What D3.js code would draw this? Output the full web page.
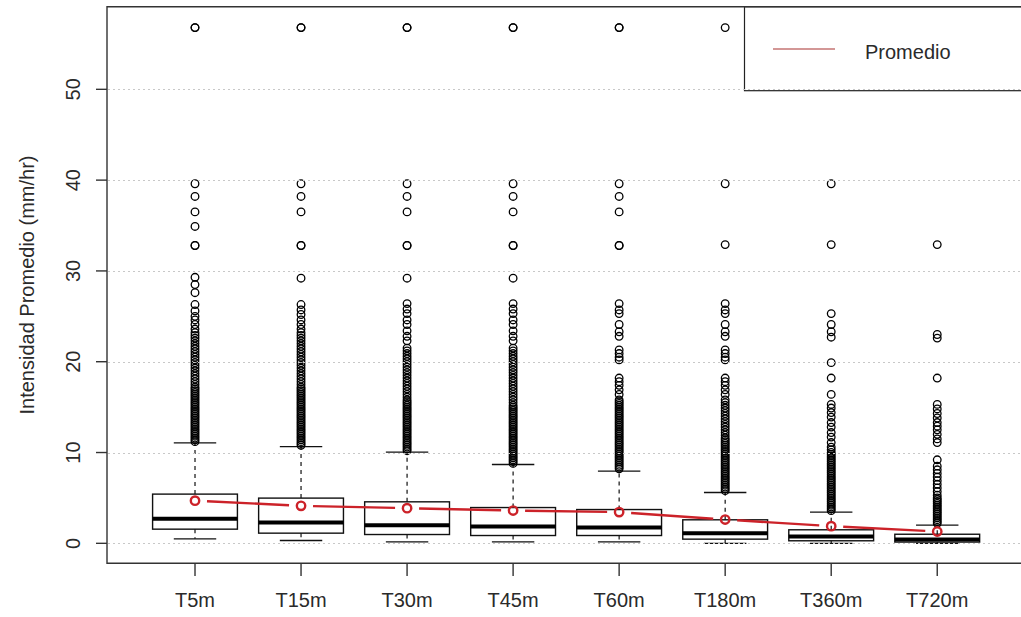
<!DOCTYPE html>
<html>
<head>
<meta charset="utf-8">
<script src="https://cdn.jsdelivr.net/npm/d3@7"></script>
<style>
  html, body { margin: 0; padding: 0; background: #fff; }
  svg { display: block; }
  text { font-family: "Liberation Sans", Arial, sans-serif; fill: #2a2a2a; }
</style>
</head>
<body>
<svg id="chart" width="1021" height="617"></svg>
<script>
// ---------------- DATA ----------------
const categories = ["T5m", "T15m", "T30m", "T45m", "T60m", "T180m", "T360m", "T720m"];
const whiskerLow  = [0.5, 0.31, 0.16, 0.16, 0.16, 0.0, 0.0, 0.0];
const q1          = [1.56, 1.12, 0.97, 0.86, 0.86, 0.46, 0.28, 0.14];
const median      = [2.7, 2.29, 2.0, 1.85, 1.74, 1.12, 0.75, 0.42];
const q3          = [5.42, 4.98, 4.57, 3.94, 3.72, 2.59, 1.49, 1.0];
const whiskerHigh = [11.07, 10.66, 10.04, 8.68, 7.95, 5.6, 3.44, 2.0];
const means       = [4.7, 4.13, 3.87, 3.61, 3.44, 2.62, 1.89, 1.3];

const out_T5m = [56.8, 56.8, 39.6, 38.2, 36.5, 34.9, 32.8, 32.8, 29.3, 28.5, 27.6, 26.3, 25.6, 25.0, 24.6, 24.1, 23.6, 23.2, 22.9, 22.6, 22.3, 22.0, 21.7, 21.4, 21.1, 20.8, 20.5, 20.2, 19.9, 19.6, 19.3, 19.0, 18.7, 18.4, 18.1, 17.8, 17.5, 17.2, 17.0, 16.8, 16.6, 16.4, 16.2, 16.0, 15.8, 15.6, 15.4, 15.2, 15.0, 14.8, 14.6, 14.4, 14.2, 14.0, 13.8, 13.6, 13.4, 13.2, 13.0, 12.8, 12.6, 12.4, 12.2, 12.0, 11.8, 11.6, 11.4, 11.2];
const out_T15m = [56.8, 56.8, 39.6, 38.2, 36.5, 32.8, 32.8, 29.2, 26.3, 25.7, 25.2, 24.6, 24.1, 23.6, 23.2, 22.9, 22.6, 22.3, 22.0, 21.7, 21.4, 21.1, 20.8, 20.5, 20.2, 19.9, 19.6, 19.3, 19.0, 18.7, 18.4, 18.1, 17.8, 17.5, 17.2, 17.0, 16.8, 16.6, 16.4, 16.2, 16.0, 15.8, 15.6, 15.4, 15.2, 15.0, 14.8, 14.6, 14.4, 14.2, 14.0, 13.8, 13.6, 13.4, 13.2, 13.0, 12.8, 12.6, 12.4, 12.2, 12.0, 11.8, 11.6, 11.4, 11.2, 11.0, 10.8];
const out_T30m = [56.8, 56.8, 39.6, 38.2, 36.5, 32.8, 32.8, 29.2, 26.4, 25.8, 25.3, 24.6, 24.1, 23.4, 22.8, 22.3, 21.5, 21.2, 20.9, 20.6, 20.3, 20.0, 19.7, 19.4, 19.1, 18.8, 18.5, 18.2, 17.9, 17.6, 17.3, 17.0, 16.7, 16.4, 16.1, 15.8, 15.6, 15.4, 15.2, 15.0, 14.8, 14.6, 14.4, 14.2, 14.0, 13.8, 13.6, 13.4, 13.2, 13.0, 12.8, 12.6, 12.4, 12.2, 12.0, 11.8, 11.6, 11.4, 11.2, 11.0, 10.8, 10.6, 10.4, 10.2];
const out_T45m = [56.8, 56.8, 39.6, 38.2, 36.5, 32.8, 32.8, 29.2, 26.4, 25.8, 25.3, 24.6, 24.1, 23.4, 22.8, 22.3, 21.5, 21.2, 20.9, 20.6, 20.3, 20.0, 19.7, 19.4, 19.1, 18.8, 18.5, 18.2, 17.9, 17.6, 17.3, 17.0, 16.7, 16.4, 16.1, 15.8, 15.5, 15.2, 15.0, 14.8, 14.6, 14.4, 14.2, 14.0, 13.8, 13.6, 13.4, 13.2, 13.0, 12.8, 12.6, 12.4, 12.2, 12.0, 11.8, 11.6, 11.4, 11.2, 11.0, 10.8, 10.6, 10.4, 10.2, 10.0, 9.8, 9.6, 9.4, 9.2, 9.0, 8.8];
const out_T60m = [56.8, 56.8, 39.6, 38.2, 36.5, 32.8, 32.8, 26.4, 25.7, 25.3, 24.1, 23.3, 22.8, 21.3, 20.9, 20.5, 20.2, 18.2, 17.8, 17.4, 16.9, 16.4, 15.8, 15.6, 15.4, 15.2, 15.0, 14.8, 14.6, 14.4, 14.2, 14.0, 13.8, 13.6, 13.4, 13.2, 13.0, 12.8, 12.6, 12.4, 12.2, 12.0, 11.8, 11.6, 11.4, 11.2, 11.0, 10.8, 10.6, 10.4, 10.2, 10.0, 9.8, 9.6, 9.4, 9.2, 9.0, 8.8, 8.6, 8.4, 8.2];
const out_T180m = [56.8, 39.6, 32.9, 26.4, 25.7, 25.3, 24.1, 23.3, 22.8, 21.3, 20.9, 20.5, 20.2, 18.2, 17.8, 17.4, 16.9, 16.4, 15.8, 15.5, 15.2, 14.9, 14.6, 14.3, 14.0, 13.7, 13.4, 13.1, 12.8, 12.5, 12.2, 11.9, 11.6, 11.4, 11.2, 11.0, 10.8, 10.6, 10.4, 10.2, 10.0, 9.8, 9.6, 9.4, 9.2, 9.0, 8.8, 8.6, 8.4, 8.2, 8.0, 7.8, 7.6, 7.4, 7.2, 7.0, 6.8, 6.6, 6.4, 6.2, 6.0, 5.8];
const out_T360m = [39.6, 32.9, 25.3, 24.1, 23.3, 22.7, 19.9, 18.2, 16.4, 15.3, 14.9, 14.4, 13.9, 13.3, 12.8, 12.2, 11.7, 11.1, 10.6, 10.3, 10.0, 9.8, 9.6, 9.4, 9.2, 9.0, 8.8, 8.6, 8.4, 8.2, 8.0, 7.8, 7.6, 7.4, 7.2, 7.0, 6.8, 6.6, 6.4, 6.2, 6.0, 5.8, 5.6, 5.4, 5.2, 5.0, 4.8, 4.6, 4.4, 4.2, 4.0, 3.8, 3.6];
const out_T720m = [32.9, 23.0, 22.6, 18.2, 15.3, 14.8, 14.3, 13.8, 13.3, 12.9, 12.5, 12.0, 11.5, 11.1, 9.2, 8.5, 8.1, 7.7, 7.3, 6.9, 6.5, 6.1, 5.7, 5.3, 5.0, 4.8, 4.6, 4.4, 4.2, 4.0, 3.8, 3.6, 3.4, 3.2, 3.0, 2.8, 2.6, 2.4, 2.2];
const outliers = [out_T5m, out_T15m, out_T30m, out_T45m, out_T60m, out_T180m, out_T360m, out_T720m];

const yTicks = [0, 10, 20, 30, 40, 50];
const yTitle = "Intensidad Promedio (mm/hr)";
const legendLabel = "Promedio";

// ---------------- LAYOUT ----------------
const svg = d3.select("#chart");
const plotL = 107, plotT = 6.7, plotB = 563.3, plotR = 1021;
const x = d3.scaleLinear().domain([0.17, 8.79]).range([plotL, plotR]);
const y = d3.scaleLinear().domain([-2.2, 59.1]).range([plotB, plotT]);
const unit = x(2) - x(1);
const boxW = 0.8 * unit;
const capW = 0.4 * unit;
const red = "#cc2229";

const boxes = categories.map((c, i) => ({
  c, pos: i + 1, lo: whiskerLow[i], q1: q1[i], med: median[i], q3: q3[i], hi: whiskerHigh[i], mean: means[i], out: outliers[i]
}));

// legend box (drawn first; grid drawn over)
const lg = svg.append("g");
lg.append("rect").attr("x", 744.5).attr("y", plotT).attr("width", 400).attr("height", 90.7 - plotT)
  .attr("fill", "#fff").attr("stroke", "#222").attr("stroke-width", 1.2);
lg.append("line").attr("x1", 773).attr("x2", 835).attr("y1", 49).attr("y2", 49)
  .attr("stroke", "#a8302f").attr("stroke-width", 1.2);
lg.append("text").attr("x", 865).attr("y", 59).attr("font-size", 20).text(legendLabel);

// boxes
const g = svg.append("g");
boxes.forEach(b => {
  const cx = x(b.pos);
  g.append("line").attr("x1", cx).attr("x2", cx).attr("y1", y(b.q3)).attr("y2", y(b.hi))
    .attr("stroke", "#111").attr("stroke-width", 1.2).attr("stroke-dasharray", "4,4");
  g.append("line").attr("x1", cx).attr("x2", cx).attr("y1", y(b.q1)).attr("y2", y(b.lo))
    .attr("stroke", "#111").attr("stroke-width", 1.2).attr("stroke-dasharray", "4,4");
  [b.lo, b.hi].forEach(v => {
    g.append("line").attr("x1", cx - capW / 2).attr("x2", cx + capW / 2).attr("y1", y(v)).attr("y2", y(v))
      .attr("stroke", "#111").attr("stroke-width", 1.3);
  });
  g.append("rect").attr("x", cx - boxW / 2).attr("width", boxW)
    .attr("y", y(b.q3)).attr("height", y(b.q1) - y(b.q3))
    .attr("fill", "none").attr("stroke", "#111").attr("stroke-width", 1.4);
  g.append("line").attr("x1", cx - boxW / 2).attr("x2", cx + boxW / 2).attr("y1", y(b.med)).attr("y2", y(b.med))
    .attr("stroke", "#000").attr("stroke-width", 4);
  g.selectAll(null).data(b.out).enter().append("circle")
    .attr("cx", cx).attr("cy", d => y(d)).attr("r", 3.8)
    .attr("fill", "none").attr("stroke", "#000").attr("stroke-width", 1.3);
});

// mean line (type "b": points with gapped segments)
const gap = 12;
for (let i = 0; i < boxes.length - 1; i++) {
  const x1 = x(boxes[i].pos), y1 = y(boxes[i].mean);
  const x2 = x(boxes[i + 1].pos), y2 = y(boxes[i + 1].mean);
  const len = Math.hypot(x2 - x1, y2 - y1);
  const ux = (x2 - x1) / len, uy = (y2 - y1) / len;
  g.append("line")
    .attr("x1", x1 + ux * gap).attr("y1", y1 + uy * gap)
    .attr("x2", x2 - ux * gap).attr("y2", y2 - uy * gap)
    .attr("stroke", red).attr("stroke-width", 2.4);
}
g.selectAll(".mean").data(boxes).enter().append("circle")
  .attr("cx", d => x(d.pos)).attr("cy", d => y(d.mean)).attr("r", 4.2)
  .attr("fill", "none").attr("stroke", red).attr("stroke-width", 2.4);

// grid (drawn on top, as in the reference)
svg.append("g").selectAll("line").data(yTicks).enter().append("line")
  .attr("x1", plotL + 1).attr("x2", plotR).attr("y1", d => Math.round(y(d)) + 0.5).attr("y2", d => Math.round(y(d)) + 0.5)
  .attr("stroke", "#c8c8c8").attr("stroke-width", 1).attr("stroke-dasharray", "2,3");

// frame
svg.append("path")
  .attr("d", `M${plotR + 5},${plotT} H${plotL} V${plotB} H${plotR + 5}`)
  .attr("fill", "none").attr("stroke", "#333").attr("stroke-width", 1.4);

// y axis ticks + labels
const yAx = svg.append("g");
yTicks.forEach(t => {
  yAx.append("line").attr("x1", 96).attr("x2", plotL).attr("y1", y(t)).attr("y2", y(t))
    .attr("stroke", "#333").attr("stroke-width", 1.4);
  yAx.append("text").attr("transform", `translate(80,${y(t)}) rotate(-90)`)
    .attr("text-anchor", "middle").attr("font-size", 20).text(t);
});
svg.append("text").attr("transform", `translate(34,${(plotT + plotB) / 2}) rotate(-90)`)
  .attr("text-anchor", "middle").attr("font-size", 20).text(yTitle);

// x axis ticks + labels
const xAx = svg.append("g");
boxes.forEach(b => {
  xAx.append("line").attr("x1", x(b.pos)).attr("x2", x(b.pos)).attr("y1", plotB).attr("y2", 576)
    .attr("stroke", "#333").attr("stroke-width", 1.4);
  xAx.append("text").attr("x", x(b.pos)).attr("y", 607).attr("text-anchor", "middle")
    .attr("font-size", 20).text(b.c);
});
</script>
</body>
</html>
